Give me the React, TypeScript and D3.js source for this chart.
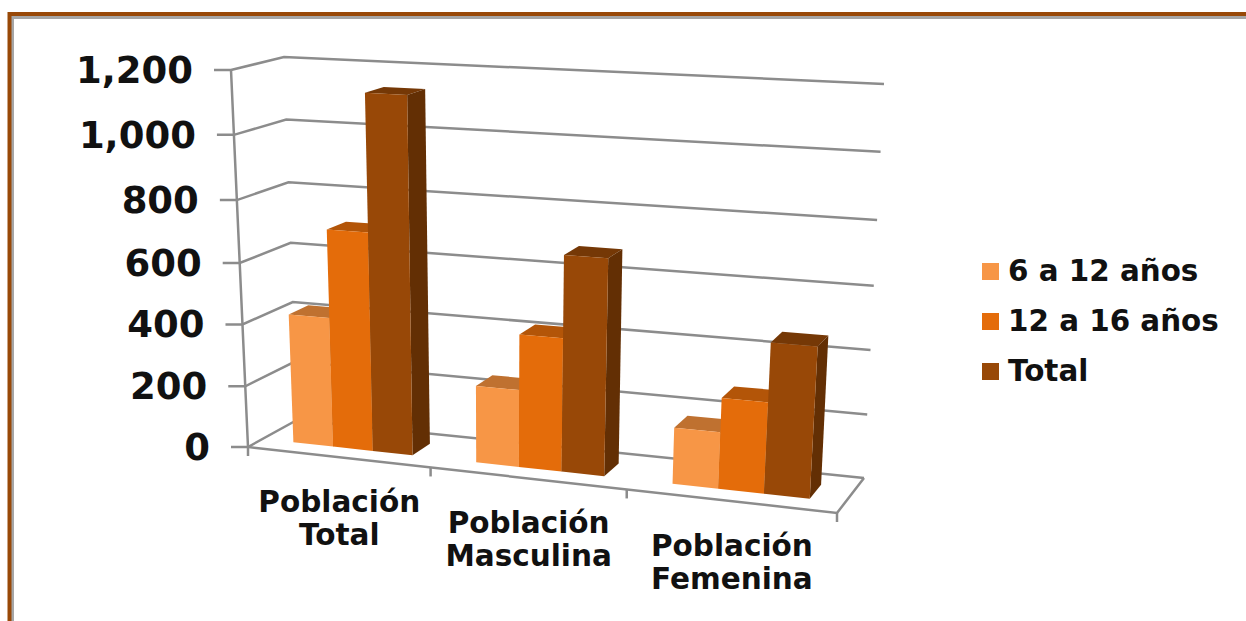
import React from 'react';
import * as d3 from 'd3';

const categories = [['Población', 'Total'], ['Población', 'Masculina'], ['Población', 'Femenina']];
const seriesNames = ['6 a 12 años', '12 a 16 años', 'Total'];
const values6a12 = [420, 245, 175];
const values12a16 = [705, 420, 280];
const valuesTotal = [1135, 680, 462];
const seriesValues = [values6a12, values12a16, valuesTotal];
const yTicks = [0, 200, 400, 600, 800, 1000, 1200];
const tickLabels = ['0', '200', '400', '600', '800', '1,000', '1,200'];

const frontColors = ['#f79646', '#e46c0a', '#984807'];
const topColors = ['#bf7130', '#b35508', '#753806'];
const sideColors = ['#a8601f', '#8f4a06', '#632f04'];
const GRID = '#8c8c8c';
const FONT = '"DejaVu Sans", Verdana, sans-serif';

// value axis is slightly stretched towards the top by the perspective
const hScale = d3.scaleLinear(yTicks, [0, 0.161, 0.325, 0.488, 0.655, 0.828, 1]);

// the four upright edges of the 3D box, bottom and top, in page pixels
const edge = (x0: number, x1: number, y0: number, y1: number) => ({
  x: d3.scaleLinear([0, 1], [x0, x1]),
  y: d3.scaleLinear([0, 1], [y0, y1]),
});
const frontLeft = edge(248, 231, 447, 70);
const backLeft = edge(297, 284, 420, 57);
const frontRight = edge(837, 862, 513, 100);
const backRight = edge(864, 884, 478, 84);

// perspective: categories get wider towards the right
const uScale = d3.scaleLinear([0, 1, 2, 3], [0, 0.31, 0.643, 1]);

const project = (u: number, v: number, value: number): [number, number] => {
  const t = uScale(u);
  const h = hScale(value);
  const coord = (k: 'x' | 'y') => {
    const front = d3.interpolateNumber(frontLeft[k](h), frontRight[k](h))(t);
    const back = d3.interpolateNumber(backLeft[k](h), backRight[k](h))(t);
    return d3.interpolateNumber(front, back)(v);
  };
  return [coord('x'), coord('y')];
};

const groupBand = d3.scaleBand<number>().domain([0, 1, 2]).range([0, 3]).paddingInner(0.34).paddingOuter(0.17);
const barBand = d3.scaleBand<number>().domain([0, 1, 2]).range([0, groupBand.bandwidth()]);
const V0 = 0.3;
const V1 = 0.7;

const poly = d3.line();
const face = (pts: [number, number][]) => poly(pts) + 'Z';

export default function App() {
  return (
    <svg width={1246} height={621} style={{ position: 'absolute', left: 0, top: 0 }} fontFamily={FONT} fontWeight="bold">
      <rect x={0} y={0} width={1246} height={621} fill="#fff" />
      {/* frame */}
      <path d="M12.5,621V17.5H1246" fill="none" stroke="#a6a6a6" strokeWidth={3} />
      <path d="M9.5,621V14H1246" fill="none" stroke="#984807" strokeWidth={4} />

      {/* back wall and side wall grid */}
      {yTicks.map((t, i) => {
        const a = project(0, 0, t);
        const b = project(0, 1, t);
        const c = project(3, 1, t);
        return (
          <g key={t}>
            <path d={poly([[a[0] - 17, a[1]], a, b, c])!} fill="none" stroke={GRID} strokeWidth={2.5} />
            <text x={a[0] - 38} y={a[1] + 13} textAnchor="end" fontSize={37} fill="#111">
              {tickLabels[i]}
            </text>
          </g>
        );
      })}
      <path d={poly([project(0, 0, 1200), project(0, 0, 0), project(3, 0, 0), project(3, 1, 0)])!} fill="none" stroke={GRID} strokeWidth={2.5} />
      {[0, 1, 2, 3].map(u => {
        const p = project(u, 0, 0);
        return <line key={u} x1={p[0]} x2={p[0]} y1={p[1]} y2={p[1] + 9} stroke={GRID} strokeWidth={2.5} />;
      })}

      {/* bars */}
      {categories.map((_, g) =>
        seriesValues.map((vals, s) => {
          const u0 = groupBand(g)! + barBand(s)!;
          const u1 = u0 + barBand.bandwidth();
          const h = vals[g];
          return (
            <g key={`${g}-${s}`}>
              <path fill={topColors[s]} d={face([project(u0, V0, h), project(u1, V0, h), project(u1, V1, h), project(u0, V1, h)])} />
              <path fill={sideColors[s]} d={face([project(u1, V0, 0), project(u1, V1, 0), project(u1, V1, h), project(u1, V0, h)])} />
              <path fill={frontColors[s]} d={face([project(u0, V0, 0), project(u1, V0, 0), project(u1, V0, h), project(u0, V0, h)])} />
            </g>
          );
        })
      )}

      {/* category labels */}
      {categories.map((lines, g) => {
        const p = project(g + 0.5, 0, 0);
        return lines.map((line, i) => (
          <text key={line} x={p[0]} y={p[1] + 55 + i * 33} textAnchor="middle" fontSize={29.5} fill="#111">
            {line}
          </text>
        ));
      })}

      {/* legend */}
      {seriesNames.map((name, i) => (
        <g key={name} transform={`translate(982,${263 + i * 50})`}>
          <rect width={17} height={17} fill={frontColors[i]} />
          <text x={26} y={18} fontSize={29.4} fill="#111">{name}</text>
        </g>
      ))}
    </svg>
  );
}
